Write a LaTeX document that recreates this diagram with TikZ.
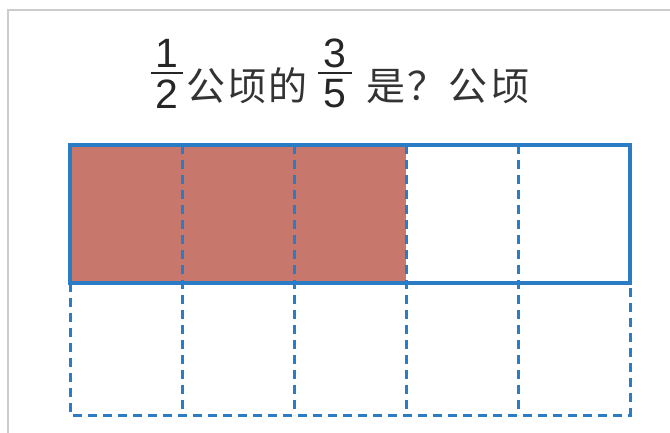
\documentclass[tikz,border=0pt]{standalone}
\usepackage{fontspec}
\setmainfont{Liberation Sans}
\newfontfamily\cjk[LetterSpace=6]{Noto Sans CJK SC}
\definecolor{lineblue}{HTML}{2A7CC4}
\definecolor{cellred}{HTML}{C8776D}
\definecolor{framegray}{HTML}{CCCCCC}
\begin{document}
\begin{tikzpicture}[x=1pt,y=-1pt,
  solidline/.style={draw=lineblue,line width=3.4pt},
  dashline/.style={draw=lineblue,line width=3pt,dash pattern=on 9pt off 6pt},
  frac/.style={inner sep=0pt,font=\fontsize{41}{41}\selectfont,text=black!85},
  cjktext/.style={inner sep=0pt,font=\cjk\fontsize{39}{39}\selectfont,text=black!80}]
\useasboundingbox (0,0) rectangle (670,433);
\draw[framegray,line width=1.5pt] (8,433) -- (8,10) -- (670,10);
% shaded part
\fill[cellred] (70,145) rectangle (406,283);
% bottom dashed row
\draw[dashline] (70,283) -- (70,415) -- (630,415) -- (630,283);
\foreach \x in {182,294,406,518}
  \draw[dashline] (\x,145) -- (\x,415);
% top solid rectangle
\draw[solidline] (70,145) rectangle (630,283);
% title
\node[frac] (n1) at (167,53) {1};
\draw[line width=2.4pt,black!85] (151,73) -- (183,73);
\node[frac] (d1) at (167,94) {2};
\node[cjktext,anchor=west] (t1) at (186,86) {公顷的};
\node[frac] (n3) at (335,53) {3};
\draw[line width=2.4pt,black!85] (318,73) -- (352,73);
\node[frac] (d3) at (335,94) {5};
\node[cjktext,anchor=west] (t2) at (366,86) {是？公顷};
\end{tikzpicture}
\end{document}
